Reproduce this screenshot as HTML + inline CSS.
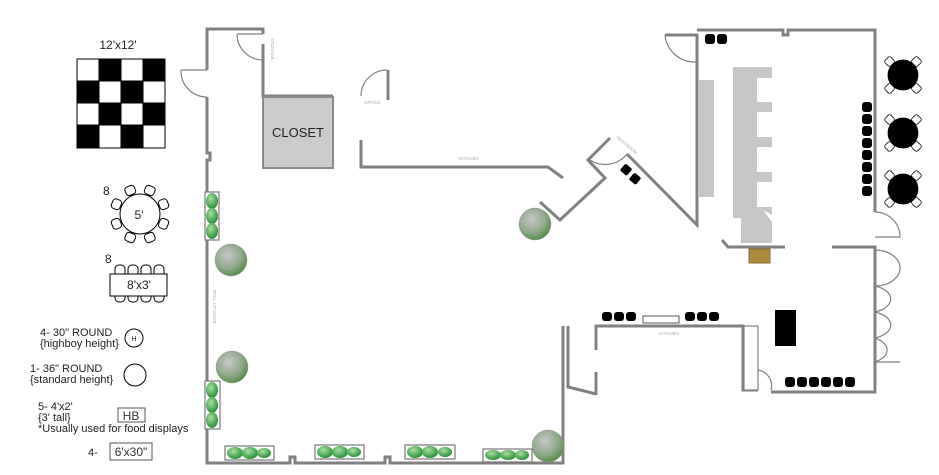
<!DOCTYPE html>
<html><head><meta charset="utf-8"><style>
html,body{margin:0;padding:0;background:#fff}
svg{display:block}
text{font-family:"Liberation Sans",sans-serif}
</style></head><body>
<svg width="939" height="475" viewBox="0 0 939 475" xmlns="http://www.w3.org/2000/svg">
<defs>
<radialGradient id="bush" cx="40%" cy="35%" r="70%"><stop offset="0" stop-color="#c8c8c8"/><stop offset="0.6" stop-color="#8fa88a"/><stop offset="1" stop-color="#4e8a3e"/></radialGradient>
<radialGradient id="leaf" cx="40%" cy="35%" r="70%"><stop offset="0" stop-color="#a8e0a0"/><stop offset="1" stop-color="#1f8a2f"/></radialGradient>
</defs>
<!-- Legend -->
<text x="118" y="49" font-size="12" text-anchor="middle" fill="#222">12'x12'</text>
<g stroke="#000" stroke-width="1">
<rect x="77" y="59" width="88" height="89" fill="#fff"/>
<rect x="99" y="59" width="22" height="22" fill="#000"/><rect x="143" y="59" width="22" height="22" fill="#000"/>
<rect x="77" y="81" width="22" height="22" fill="#000"/><rect x="121" y="81" width="22" height="22" fill="#000"/>
<rect x="99" y="103" width="22" height="22" fill="#000"/><rect x="143" y="103" width="22" height="22" fill="#000"/>
<rect x="77" y="125" width="22" height="23" fill="#000"/><rect x="121" y="125" width="22" height="23" fill="#000"/>
</g>
<text x="103" y="195" font-size="12" fill="#222">8</text>
<g fill="#fff" stroke="#000" stroke-width="1">
<g transform="translate(140,214)">
<g transform="rotate(22.5) translate(0,-25)"><rect x="-5" y="-5" width="10" height="9" rx="3"/></g>
<g transform="rotate(67.5) translate(0,-25)"><rect x="-5" y="-5" width="10" height="9" rx="3"/></g>
<g transform="rotate(112.5) translate(0,-25)"><rect x="-5" y="-5" width="10" height="9" rx="3"/></g>
<g transform="rotate(157.5) translate(0,-25)"><rect x="-5" y="-5" width="10" height="9" rx="3"/></g>
<g transform="rotate(202.5) translate(0,-25)"><rect x="-5" y="-5" width="10" height="9" rx="3"/></g>
<g transform="rotate(247.5) translate(0,-25)"><rect x="-5" y="-5" width="10" height="9" rx="3"/></g>
<g transform="rotate(292.5) translate(0,-25)"><rect x="-5" y="-5" width="10" height="9" rx="3"/></g>
<g transform="rotate(337.5) translate(0,-25)"><rect x="-5" y="-5" width="10" height="9" rx="3"/></g>
<circle r="20"/>
</g>
<rect x="115" y="265" width="10" height="12" rx="4"/><rect x="128" y="265" width="10" height="12" rx="4"/><rect x="141" y="265" width="10" height="12" rx="4"/><rect x="154" y="265" width="10" height="12" rx="4"/>
<rect x="115" y="290" width="10" height="12" rx="4"/><rect x="128" y="290" width="10" height="12" rx="4"/><rect x="141" y="290" width="10" height="12" rx="4"/><rect x="154" y="290" width="10" height="12" rx="4"/>
<rect x="110" y="274" width="57" height="22"/>
<circle cx="134" cy="338" r="9"/>
<circle cx="135" cy="375" r="11"/>
<rect x="118" y="408" width="27" height="14" stroke="#555"/>
<rect x="110" y="443" width="42" height="17" stroke="#555"/>
</g>
<text x="139" y="219" font-size="12" text-anchor="middle" fill="#222">5'</text>
<text x="105" y="263" font-size="12" fill="#222">8</text>
<text x="139" y="289" font-size="12" text-anchor="middle" fill="#222">8'x3'</text>
<text x="134" y="341" font-size="7" text-anchor="middle" fill="#222">H</text>
<text x="131" y="420" font-size="12" text-anchor="middle" fill="#333">HB</text>
<text x="131" y="456" font-size="12" text-anchor="middle" fill="#333">6'x30"</text>
<g font-size="11" fill="#222">
<text x="40" y="336">4- 30" ROUND</text>
<text x="40" y="347">{highboy height}</text>
<text x="30" y="372">1- 36" ROUND</text>
<text x="30" y="383">{standard height}</text>
<text x="38" y="410">5- 4'x2'</text>
<text x="38" y="421">{3' tall}</text>
<text x="38" y="432">*Usually used for food displays</text>
<text x="88" y="456">4-</text>
</g>
<!-- Walls -->
<g fill="none" stroke="#808080" stroke-width="3">
<polyline points="207,70 207,29 263,29 263,34"/>
<polyline points="263,44 263,96 333,96"/>
<polyline points="207,97 207,153 210,153 210,160 207,160 207,463 290,463 290,457 295,457 295,463 385,463 385,457 390,457 390,463 563,463 563,437"/>
<polyline points="388,70 388,100"/>
<polyline points="361,140 361,167 548,167 563,178"/>
<polyline points="540,202 560,220 605,178 588,160 610,138"/>
<polyline points="627,154 697,225 697,62 697,35 665,35"/>
<polyline points="697,30 783,30 783,35 788,35 788,30 875,30 875,212"/>
<polyline points="722,240 728,247 785,247"/>
<polyline points="832,247 875,247 875,392 771,392"/>
<polyline points="563,326 563,437"/>
<polyline points="568,326 568,387 596,394"/>
<polyline points="596,372 596,395"/>
<polyline points="596,350 596,326 743,326 743,390 758,390"/>
</g>
<g fill="none" stroke="#808080" stroke-width="1.2">
<path d="M181,70 A26,26 0 0 0 207,97"/><line x1="181" y1="70" x2="207" y2="70"/>
<path d="M237,34 A26,26 0 0 0 263,60"/><line x1="237" y1="34" x2="263" y2="34"/>
<path d="M361,96 A26,26 0 0 1 387,70"/>
<path d="M665,35 A30,30 0 0 0 697,62"/>
<path d="M590,160 A28,28 0 0 0 627,154"/>
<path d="M875,212 A25,25 0 0 1 900,237 L875,237"/>
<path d="M875,250 A25,18 0 0 1 875,286"/>
<path d="M875,286 A25,14 0 0 1 875,312"/>
<path d="M875,312 A25,14 0 0 1 875,338"/>
<path d="M875,338 A25,14 0 0 1 875,362"/>
<line x1="875" y1="362" x2="900" y2="362"/>
<path d="M758,370 A16,16 0 0 1 771,390"/>
<rect x="744" y="326" width="14" height="64" fill="#fff"/>
</g>
<!-- closet -->
<rect x="263" y="97" width="70" height="71" fill="#cbcbcb" stroke="#8a8a8a" stroke-width="2"/>
<text x="298" y="137" font-size="13" text-anchor="middle" fill="#222">CLOSET</text>
<!-- small labels -->
<g font-size="4.5" fill="#aaa">
<text x="364" y="104">OFFICE</text>
<text x="459" y="160">KITCHEN</text>
<text x="659" y="335">KITCHEN</text>
<text transform="translate(271,38) rotate(90)">STORAGE</text>
<text transform="translate(213,290) rotate(90)">ROLL UP DOOR</text>
<text transform="translate(616,138) rotate(40)">RESTROOM</text>
<text transform="translate(704,125) rotate(90)">COUNTER</text>
<text transform="translate(751,133) rotate(90)">BAR</text>
</g>
<!-- bar -->
<rect x="698" y="80" width="16" height="117" fill="#c6c6c6"/>
<polygon fill="#c6c6c6" points="733,67 772,67 772,78 757,78 757,102 772,102 772,112 757,112 757,137 772,137 772,147 757,147 757,172 772,172 772,182 757,182 757,207 772,207 772,215 763,210 772,222 772,243 741,243 741,218 733,218" />
<rect x="749" y="249" width="21" height="14" fill="#b08840" stroke="#8a6a30"/>
<!-- chairs -->
<g fill="#000">
<rect x="705" y="34" width="10" height="10" rx="3"/><rect x="717" y="34" width="10" height="10" rx="3"/>
<rect x="622" y="165" width="9" height="9" rx="2" transform="rotate(40 626 169)"/>
<rect x="631" y="174" width="9" height="9" rx="2" transform="rotate(40 635 178)"/>
<rect x="862" y="102" width="10" height="10" rx="3"/><rect x="862" y="114" width="10" height="10" rx="3"/><rect x="862" y="126" width="10" height="10" rx="3"/><rect x="862" y="138" width="10" height="10" rx="3"/><rect x="862" y="150" width="10" height="10" rx="3"/><rect x="862" y="162" width="10" height="10" rx="3"/><rect x="862" y="174" width="10" height="10" rx="3"/><rect x="862" y="186" width="10" height="10" rx="3"/>
<rect x="602" y="312" width="10" height="9" rx="3"/><rect x="614" y="312" width="10" height="9" rx="3"/><rect x="626" y="312" width="10" height="9" rx="3"/>
<rect x="685" y="312" width="10" height="9" rx="3"/><rect x="697" y="312" width="10" height="9" rx="3"/><rect x="709" y="312" width="10" height="9" rx="3"/>
<rect x="775" y="310" width="21" height="36"/>
<rect x="785" y="377" width="10" height="10" rx="3"/><rect x="797" y="377" width="10" height="10" rx="3"/><rect x="809" y="377" width="10" height="10" rx="3"/><rect x="821" y="377" width="10" height="10" rx="3"/><rect x="833" y="377" width="10" height="10" rx="3"/><rect x="845" y="377" width="10" height="10" rx="3"/>
</g>
<rect x="643" y="316" width="36" height="7" fill="#fff" stroke="#555"/>
<!-- round tables -->
<g stroke="#000" stroke-width="0.8">
<g transform="translate(903,75)"><g fill="#fff"><g transform="rotate(45) translate(0,-19)"><rect x="-4" y="-4" width="8" height="8" rx="2"/></g><g transform="rotate(135) translate(0,-19)"><rect x="-4" y="-4" width="8" height="8" rx="2"/></g><g transform="rotate(225) translate(0,-19)"><rect x="-4" y="-4" width="8" height="8" rx="2"/></g><g transform="rotate(315) translate(0,-19)"><rect x="-4" y="-4" width="8" height="8" rx="2"/></g></g><circle r="15" fill="#000"/></g>
<g transform="translate(903,133)"><g fill="#fff"><g transform="rotate(45) translate(0,-19)"><rect x="-4" y="-4" width="8" height="8" rx="2"/></g><g transform="rotate(135) translate(0,-19)"><rect x="-4" y="-4" width="8" height="8" rx="2"/></g><g transform="rotate(225) translate(0,-19)"><rect x="-4" y="-4" width="8" height="8" rx="2"/></g><g transform="rotate(315) translate(0,-19)"><rect x="-4" y="-4" width="8" height="8" rx="2"/></g></g><circle r="15" fill="#000"/></g>
<g transform="translate(903,189)"><g fill="#fff"><g transform="rotate(45) translate(0,-19)"><rect x="-4" y="-4" width="8" height="8" rx="2"/></g><g transform="rotate(135) translate(0,-19)"><rect x="-4" y="-4" width="8" height="8" rx="2"/></g><g transform="rotate(225) translate(0,-19)"><rect x="-4" y="-4" width="8" height="8" rx="2"/></g><g transform="rotate(315) translate(0,-19)"><rect x="-4" y="-4" width="8" height="8" rx="2"/></g></g><circle r="15" fill="#000"/></g>
</g>
<!-- plants -->
<g fill="url(#bush)" stroke="#999" stroke-width="0.5">
<circle cx="535" cy="224" r="16"/><circle cx="231" cy="260" r="16"/><circle cx="232" cy="367" r="16"/><circle cx="548" cy="446" r="16"/>
</g>
<g stroke="#777" stroke-width="1.2" fill="#fff">
<rect x="205" y="192" width="14" height="48"/><rect x="205" y="381" width="15" height="48"/>
<rect x="225" y="446" width="49" height="14"/><rect x="315" y="445" width="49" height="14"/><rect x="405" y="445" width="50" height="14"/><rect x="483" y="449" width="49" height="13"/>
</g>
<g fill="url(#leaf)">
<ellipse cx="212" cy="201" rx="6" ry="8"/><ellipse cx="212" cy="216" rx="6" ry="8"/><ellipse cx="212" cy="231" rx="6" ry="8"/>
<ellipse cx="212" cy="390" rx="6" ry="8"/><ellipse cx="212" cy="405" rx="6" ry="8"/><ellipse cx="212" cy="420" rx="6" ry="8"/>
<ellipse cx="235" cy="453" rx="8" ry="6"/><ellipse cx="250" cy="453" rx="8" ry="6"/><ellipse cx="264" cy="453" rx="7" ry="5"/>
<ellipse cx="325" cy="452" rx="8" ry="6"/><ellipse cx="340" cy="452" rx="8" ry="6"/><ellipse cx="354" cy="452" rx="7" ry="5"/>
<ellipse cx="415" cy="452" rx="8" ry="6"/><ellipse cx="430" cy="452" rx="8" ry="6"/><ellipse cx="445" cy="452" rx="7" ry="5"/>
<ellipse cx="493" cy="455" rx="8" ry="5"/><ellipse cx="508" cy="455" rx="8" ry="5"/><ellipse cx="522" cy="455" rx="7" ry="5"/>
</g>
</svg>
</body></html>
